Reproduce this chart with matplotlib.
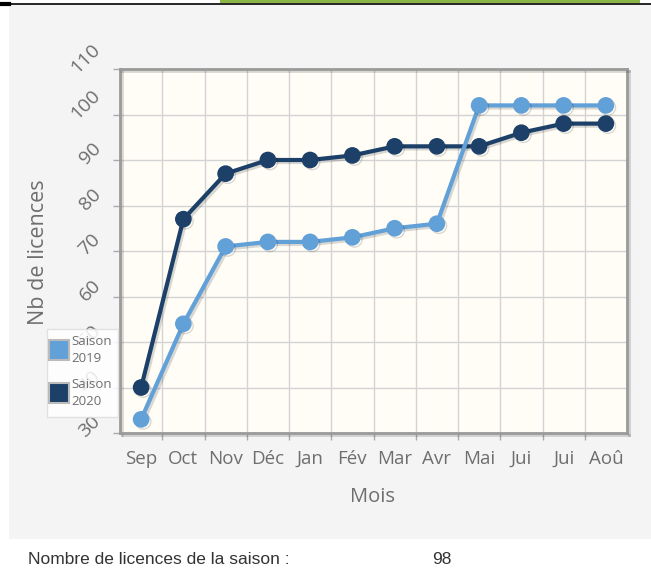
import matplotlib.pyplot as plt
import matplotlib.patheffects as pe
from matplotlib.patches import Rectangle
from matplotlib.transforms import ScaledTranslation

# data
mois = ["Sep", "Oct", "Nov", "Déc", "Jan", "Fév", "Mar", "Avr", "Mai", "Jui", "Jui", "Aoû"]
saison_2019 = [33, 54, 71, 72, 72, 73, 75, 76, 102, 102, 102, 102]
saison_2020 = [40, 77, 87, 90, 90, 91, 93, 93, 93, 96, 98, 98]
y_ticks = [30, 40, 50, 60, 70, 80, 90, 100, 110]
nb_licences = 98

c2019 = "#62a0d8"
c2020 = "#1c4068"
grey_txt = "#6e6e6e"

W, H = 651, 569
fig = plt.figure(figsize=(W / 100, H / 100), dpi=100)
fig.patch.set_facecolor("white")


def fx(x):
    return x / W


def fy(y):
    return 1 - y / H


# page decoration: grey panel, top rule, green bar
fig.add_artist(Rectangle((fx(9), fy(539)), fx(651 - 9), (539 - 5) / H,
                         transform=fig.transFigure, facecolor="#f4f4f4", edgecolor="none", zorder=0))
fig.add_artist(plt.Line2D([0, 1], [fy(4), fy(4)], transform=fig.transFigure, color="black", lw=1.2))
fig.add_artist(plt.Line2D([0, fx(9)], [fy(4), fy(4)], transform=fig.transFigure, color="black", lw=3))
fig.add_artist(Rectangle((fx(220), fy(3)), fx(420), 3 / H, transform=fig.transFigure,
                         facecolor="#8ab545", edgecolor="none"))

ax = fig.add_axes([fx(120), fy(433), fx(627 - 120), (433 - 69) / H])
ax.set_facecolor("#fffdf6")

x = list(range(len(mois)))
shadow = [pe.SimpleLineShadow(offset=(1.5, -1.5), alpha=0.15, shadow_color="black"), pe.Normal()]
ax.plot(x, saison_2020, color=c2020, lw=3, marker="o", ms=11, zorder=3, path_effects=shadow)
ax.plot(x, saison_2019, color=c2019, lw=3, marker="o", ms=11, zorder=4, path_effects=shadow)

ax.set_xlim(-0.5, len(mois) - 0.5)
ax.set_ylim(30, 110)
ax.set_xticks(x)
ax.set_xticklabels(mois, fontsize=13.5, color=grey_txt, family="Open Sans")
ax.set_xticks([i + 0.5 for i in x[:-1]], minor=True)
ax.tick_params(axis="x", which="major", length=0, pad=12)
ax.tick_params(axis="x", which="minor", length=5, color="#aaaaaa", width=1)

ax.set_yticks(y_ticks)
ax.set_yticklabels([str(v) for v in y_ticks], fontsize=14, color=grey_txt,
                   family="Open Sans", rotation=45, ha="right", va="bottom")
ax.tick_params(axis="y", length=5, color="#aaaaaa", width=1, pad=10)
for lab in ax.get_yticklabels():
    lab.set_transform(lab.get_transform() + ScaledTranslation(0.05, -0.08, fig.dpi_scale_trans))

ax.grid(True, which="minor", axis="x", color="#d3d3d3", lw=1)
ax.grid(True, which="major", axis="y", color="#d3d3d3", lw=1)
ax.set_axisbelow(True)

for sp in ax.spines.values():
    sp.set_color("#9a9a9a")
    sp.set_linewidth(2)
    sp.set_path_effects([pe.SimpleLineShadow(offset=(1.5, -1.5), alpha=0.15), pe.Normal()])

fig.text(fx(39), fy(252), "Nb de licences", rotation=90, ha="center", va="center",
         fontsize=15.5, color=grey_txt, family="Open Sans")
fig.text(fx(373), fy(497), "Mois", ha="center", va="center",
         fontsize=14.5, color=grey_txt, family="Open Sans")

# legend box
fig.add_artist(Rectangle((fx(47), fy(417)), fx(118 - 47), (417 - 329) / H, transform=fig.transFigure,
                         facecolor="white", edgecolor="#dddddd", lw=1, alpha=0.85, zorder=5))
for top, col, lab in [(340, c2019, "Saison\n2019"), (383, c2020, "Saison\n2020")]:
    fig.add_artist(Rectangle((fx(49), fy(top + 20)), fx(20), 20 / H, transform=fig.transFigure,
                             facecolor=col, edgecolor="#bbbbbb", lw=1.5, zorder=6))
    fig.text(fx(71), fy(top + 10), lab, ha="left", va="center", fontsize=9.5,
             color=grey_txt, family="Open Sans", linespacing=1.35, zorder=7)

fig.text(fx(28), fy(560), "Nombre de licences de la saison :", ha="left", va="center",
         fontsize=12.5, color="#333333", family="Liberation Sans")
fig.text(fx(432), fy(560), str(nb_licences), ha="left", va="center",
         fontsize=12.5, color="#333333", family="Liberation Sans")

fig.savefig("out.png", dpi=100)
